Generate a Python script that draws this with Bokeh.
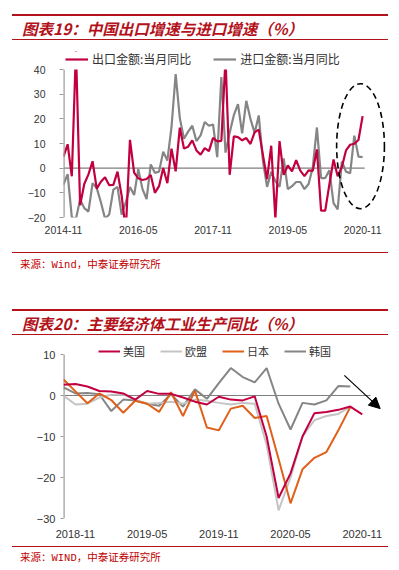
from bokeh.plotting import figure
from bokeh.models import Div, Legend, LegendItem, FixedTicker, Range1d, Arrow, NormalHead, BoxAnnotation
from bokeh.layouts import column
from bokeh.embed import file_html
from bokeh.resources import INLINE

# ---------------- Chart 1 data (monthly, 2014-11 .. 2020-11) ----------------
export_yoy = [4.7, 9.7, -3.3, 48.3, -15.0, -6.4, -2.5, 2.8, -8.3, -5.5, -3.7, -6.9,
              -6.8, -1.4, -11.2, -25.4, 11.5, -1.8, -4.1, -4.8, -4.4, -2.8, -10.0, -7.3,
              0.1, -6.1, 7.9, -1.3, 16.4, 8.0, 8.7, 11.3, 7.2, 5.5, 8.1, 6.9,
              12.3, 10.9, 11.1, 44.5, -2.7, 12.9, 12.6, 11.3, 12.2, 9.8, 14.5, 15.6,
              5.4, -4.4, 9.1, -20.7, 11.0, -2.7, 1.1, -1.3, 3.3, -1.0, -3.2, -0.9,
              -1.1, 7.6, -17.2, -17.2, -6.6, 3.5, -3.3, 0.5, 7.2, 9.5, 9.9, 11.4,
              21.1]
import_yoy = [-6.7, -2.4, -19.9, -20.5, -12.7, -16.2, -17.6, -6.1, -8.1, -13.8, -20.4, -18.8,
              -8.7, -7.6, -18.8, -13.8, -7.6, -10.9, -0.4, -8.4, -12.5, 1.5, -1.9, -1.4,
              6.7, 3.1, 16.7, 38.1, 20.3, 11.9, 14.8, 17.2, 11.0, 13.3, 18.7, 17.2,
              17.7, 4.5, 36.9, 6.3, 14.4, 21.5, 26.0, 14.1, 27.3, 20.0, 14.3, 21.4,
              3.0, -7.6, -1.5, -5.2, -7.6, 4.0, -8.5, -7.3, -5.6, -5.6, -8.5, -6.4,
              0.3, 16.5, -4.0, -4.0, -0.9, -14.2, -16.7, 2.7, -1.4, -2.1, 13.2, 4.7,
              4.5]
tick_idx1 = [0, 18, 36, 54, 72]
tick_labels1 = ["2014-11", "2016-05", "2017-11", "2019-05", "2020-11"]
series1_names = ["出口金额:当月同比", "进口金额:当月同比"]

# ---------------- Chart 2 data (monthly, 2018-10 .. 2020-11) ----------------
us_ip = [2.6, 2.8, 2.2, 1.1, 1.0, 0.5, -1.0, 1.1, 0.4, 0.4, -0.5, -1.5, -2.2,
         -0.3, -1.0, -1.2, -0.2, -10.0, -25.0, -19.0, -10.0, -4.3, -4.0, -3.5, -2.7, -4.6]
eu_ip = [0.0, -2.2, -2.0, -0.5, 0.2, 0.2, -1.0, -2.0, -1.8, -1.5, -2.0, -1.0, -1.3,
         -1.8, -2.2, -1.8, -2.0, -12.0, -28.0, -20.0, -10.0, -6.0, -5.0, -4.5, -2.7]
jp_ip = [3.9, 1.0, -1.9, 0.5, -1.1, -4.2, -1.3, -2.0, -4.0, 0.8, -5.0, 1.2, -7.8,
         -8.5, -3.2, -2.5, -5.5, -5.0, -15.5, -26.3, -18.0, -15.2, -13.8, -8.5, -2.8]
kr_ip = [2.0, 0.5, 0.6, 0.3, -3.8, -1.0, -1.2, -2.0, -2.5, 0.3, -2.7, 1.5, -0.8,
         3.0, 6.7, 4.5, 3.2, 6.7, -2.0, -8.3, -1.8, -2.2, -1.2, 2.3, 2.2]
tick_idx2 = [1, 7, 13, 19, 25]
tick_labels2 = ["2018-11", "2019-05", "2019-11", "2020-05", "2020-11"]
series2_names = ["美国", "欧盟", "日本", "韩国"]

RED = "#B3121B"
SRC_RED = "#C00000"
C_CRIMSON = "#C2003F"
C_GRAY = "#858585"
C_LGRAY = "#C4C4C4"
C_ORANGE = "#E0601A"
AX_GRAY = "#9A9A9A"
TXT = "#333333"
CJK = "Noto Sans CJK SC"


def minus(v):
    return ("\u2212" + str(-v)) if v < 0 else str(v)


def style_axes(p, xticks, xlabels, yticks, tick_font, x_standoff, y_standoff, y_tick_out):
    p.outline_line_color = None
    p.xgrid.visible = False
    p.ygrid.visible = False
    xa = p.xaxis[0]
    xa.ticker = FixedTicker(ticks=xticks)
    xa.major_label_overrides = {int(t): l for t, l in zip(xticks, xlabels)}
    xa.axis_line_color = None
    xa.major_tick_line_color = None
    xa.minor_tick_line_color = None
    xa.major_label_standoff = x_standoff
    xa.major_label_text_font = "Liberation Sans"
    xa.major_label_text_font_size = tick_font
    xa.major_label_text_color = TXT
    ya = p.yaxis[0]
    ya.ticker = FixedTicker(ticks=yticks)
    ya.major_label_overrides = {int(t): minus(int(t)) for t in yticks}
    ya.axis_line_color = None          # spine drawn as a segment over the value range
    ya.major_tick_line_color = AX_GRAY
    ya.major_tick_in = 0
    ya.major_tick_out = y_tick_out
    ya.minor_tick_line_color = None
    ya.major_label_standoff = y_standoff
    ya.major_label_text_font = "Liberation Sans"
    ya.major_label_text_font_size = tick_font
    ya.major_label_text_color = TXT


def make_legend(items, loc, glyph_w, standoff, spacing, font_size, h):
    return Legend(items=items, location=loc, orientation="horizontal",
                  glyph_width=glyph_w, glyph_height=h, label_height=h,
                  label_standoff=standoff, spacing=spacing, padding=0, margin=0,
                  border_line_color=None, background_fill_alpha=0,
                  label_text_font=CJK, label_text_font_size=font_size,
                  label_text_color=TXT)


# ---------------- Figure 1 ----------------
x1 = list(range(len(export_yoy)))
y_lo1, y_hi1 = -20, 40
p1 = figure(width=383, height=200, x_range=Range1d(0, 77.75), y_range=Range1d(y_lo1, 47.3),
            output_backend="svg", toolbar_location=None,
            min_border_left=55, min_border_right=3, min_border_top=6, min_border_bottom=28)
style_axes(p1, tick_idx1, tick_labels1, [-20, -10, 0, 10, 20, 30, 40], "10.5px", 2, 14, 4)
p1.segment(x0=[x1[0]], y0=[0], x1=[x1[-1] + 0.5], y1=[0], line_color="#7F7F7F", line_width=1.2)
r_imp = p1.line(x1, import_yoy, line_color=C_GRAY, line_width=2.2)
r_exp = p1.line(x1, export_yoy, line_color=C_CRIMSON, line_width=2.2)
# plot area ends at 40: mask everything above the value axis top
p1.add_layout(BoxAnnotation(bottom=y_hi1, fill_color="white", fill_alpha=1.0,
                            line_alpha=0, level="overlay"))
p1.segment(x0=[0], y0=[y_lo1], x1=[0], y1=[y_hi1], line_color=AX_GRAY, line_width=2.4)
p1.ellipse(x=71.5, y=8.9, width=11.5, height=50.7, fill_color=None,
           line_color="black", line_dash="6 4", line_width=1.6)
leg1 = make_legend([LegendItem(label=series1_names[0], renderers=[r_exp]),
                    LegendItem(label=series1_names[1], renderers=[r_imp])],
                   (2, 150), 23, 4, 22, "12px", 14)
p1.add_layout(leg1, "center")

# ---------------- Figure 2 ----------------
x_us = list(range(len(us_ip)))
x_other = list(range(len(eu_ip)))
y_lo2, y_hi2 = -30, 10
p2 = figure(width=383, height=200, x_range=Range1d(0, 27.03), y_range=Range1d(y_lo2, 12.44),
            output_backend="svg", toolbar_location=None,
            min_border_left=45, min_border_right=5, min_border_top=4, min_border_bottom=22)
style_axes(p2, tick_idx2, tick_labels2, [-30, -20, -10, 0, 10], "11px", 5, 5, 3)
p2.segment(x0=[0], y0=[y_lo2], x1=[0], y1=[y_hi2], line_color=AX_GRAY, line_width=2.4)
p2.segment(x0=[x_us[0]], y0=[0], x1=[x_us[-1] + 0.7], y1=[0], line_color="#7F7F7F", line_width=1.2)
r_kr = p2.line(x_other, kr_ip, line_color=C_GRAY, line_width=2)
r_eu = p2.line(x_other, eu_ip, line_color=C_LGRAY, line_width=2)
r_jp = p2.line(x_other, jp_ip, line_color=C_ORANGE, line_width=2)
r_us = p2.line(x_us, us_ip, line_color=C_CRIMSON, line_width=2)
p2.add_layout(Arrow(end=NormalHead(size=11, fill_color="black", line_color="black"),
                    x_start=23.5, y_start=4.9, x_end=26.5, y_end=-3.2,
                    line_color="black", line_width=1.2))
leg2 = make_legend([LegendItem(label=series2_names[0], renderers=[r_us]),
                    LegendItem(label=series2_names[1], renderers=[r_eu]),
                    LegendItem(label=series2_names[2], renderers=[r_jp]),
                    LegendItem(label=series2_names[3], renderers=[r_kr])],
                   (35, 159), 22, 3, 15, "11px", 14)
p2.add_layout(leg2, "center")


# ---------------- Header / source blocks ----------------
def hline(top, h):
    return (f'<div style="position:absolute;left:4px;top:{top}px;width:376px;'
            f'height:{h}px;background:{RED};"></div>')


def title_txt(top, txt):
    return (f'<div style="position:absolute;left:14px;top:{top}px;white-space:nowrap;'
            f'font-family:\'{CJK}\';font-weight:bold;font-style:italic;font-size:15.5px;'
            f'line-height:18px;color:{RED};">{txt}</div>')


def source_txt(top, txt):
    return (f'<div style="position:absolute;left:12px;top:{top}px;white-space:nowrap;'
            f'font-family:\'Liberation Mono\',\'{CJK}\';font-size:10.5px;line-height:11px;'
            f'color:{SRC_RED};">{txt}</div>')


def block(inner, h):
    return f'<div style="position:relative;width:383px;height:{h}px;">{inner}</div>'


div1 = Div(text=block(hline(6, 2) + title_txt(11, "图表19：中国出口增速与进口增速（%）") + hline(31, 1), 37),
           width=383, height=37, margin=0)
div2 = Div(text=block(hline(7, 1) + source_txt(15, "来源：Wind，中泰证券研究所") +
                      hline(64, 2) + title_txt(69, "图表20：主要经济体工业生产同比（%）") + hline(89, 1), 95),
           width=383, height=95, margin=0)
div3 = Div(text=block(hline(6, 1) + source_txt(13, "来源：WIND，中泰证券研究所"), 22),
           width=383, height=22, margin=0)

layout = column(div1, p1, div2, p2, div3, spacing=0, margin=(8, 0, 0, 8))
open("out.html", "w").write(file_html(layout, INLINE))
